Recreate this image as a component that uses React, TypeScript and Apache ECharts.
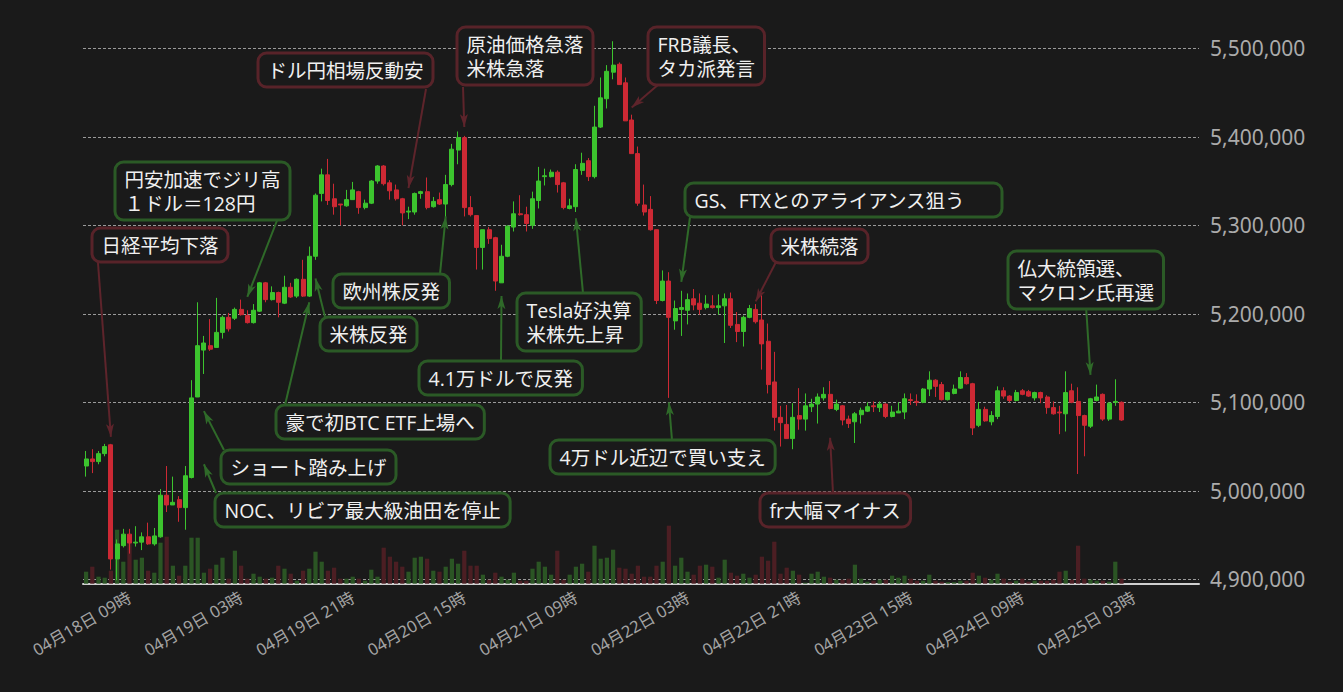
import React, { useEffect, useRef } from 'react';
import * as echarts from 'echarts';

// ---------- DATA ----------
const START_UTC = Date.UTC(2022, 3, 18, 2); // first candle: 04/18 02:00
const CATEGORY_COUNT = 180; // hourly slots on the axis (data fills the first 168)
const pad2 = (n: number) => String(n).padStart(2, '0');
const categories: string[] = Array.from({ length: CATEGORY_COUNT }, (_, i) => {
  const d = new Date(START_UTC + i * 3600 * 1000);
  return `${pad2(d.getUTCMonth() + 1)}月${pad2(d.getUTCDate())}日 ${pad2(d.getUTCHours())}時`;
});

// [open, close, low, high] (JPY)
const ohlc: number[][] = [
  [5028000, 5036000, 5016000, 5045000], [5036000, 5033000, 5020000, 5047000], [5033000, 5042000, 5030000, 5045000],
  [5042000, 5050000, 5039000, 5053000], [5052000, 4923000, 4911000, 5053000], [4923000, 4940000, 4899000, 4945000],
  [4938000, 4951000, 4936000, 4957000], [4951000, 4941000, 4929000, 4957000], [4941000, 4942000, 4937000, 4960000],
  [4942000, 4948000, 4933000, 4953000], [4948000, 4940000, 4939000, 4964000], [4940000, 4949000, 4938000, 4958000],
  [4948000, 4995000, 4947000, 5002000], [4995000, 4984000, 4976000, 5028000], [4984000, 4987000, 4984000, 5016000],
  [4990000, 4981000, 4965000, 4994000], [4981000, 5017000, 4956000, 5028000], [5015000, 5105000, 5014000, 5125000],
  [5106000, 5164000, 5106000, 5213000], [5159000, 5167000, 5132000, 5175000], [5164000, 5160000, 5158000, 5194000],
  [5162000, 5179000, 5162000, 5218000], [5179000, 5196000, 5172000, 5198000], [5196000, 5183000, 5180000, 5201000],
  [5195000, 5205000, 5193000, 5207000], [5205000, 5199000, 5198000, 5216000], [5198000, 5190000, 5189000, 5204000],
  [5190000, 5204000, 5189000, 5211000], [5203000, 5235000, 5202000, 5236000], [5235000, 5216000, 5213000, 5236000],
  [5216000, 5224000, 5215000, 5231000], [5224000, 5213000, 5196000, 5225000], [5212000, 5230000, 5211000, 5243000],
  [5230000, 5219000, 5218000, 5235000], [5220000, 5239000, 5218000, 5240000], [5239000, 5220000, 5219000, 5261000],
  [5220000, 5265000, 5219000, 5276000], [5265000, 5334000, 5261000, 5336000], [5336000, 5357000, 5327000, 5364000],
  [5357000, 5328000, 5323000, 5375000], [5330000, 5321000, 5312000, 5347000], [5324000, 5323000, 5300000, 5324000],
  [5322000, 5329000, 5321000, 5340000], [5329000, 5340000, 5329000, 5349000], [5338000, 5320000, 5313000, 5339000],
  [5320000, 5325000, 5318000, 5329000], [5325000, 5350000, 5324000, 5351000], [5350000, 5367000, 5347000, 5368000],
  [5367000, 5347000, 5345000, 5368000], [5348000, 5339000, 5329000, 5351000], [5340000, 5330000, 5328000, 5346000],
  [5330000, 5314000, 5300000, 5331000], [5315000, 5316000, 5307000, 5321000], [5315000, 5336000, 5312000, 5337000],
  [5336000, 5338000, 5330000, 5339000], [5338000, 5320000, 5318000, 5354000], [5321000, 5327000, 5320000, 5332000],
  [5329000, 5324000, 5323000, 5337000], [5324000, 5346000, 5302000, 5357000], [5346000, 5386000, 5344000, 5392000],
  [5385000, 5399000, 5369000, 5406000], [5399000, 5320000, 5310000, 5401000], [5320000, 5312000, 5310000, 5333000],
  [5311000, 5275000, 5250000, 5311000], [5275000, 5295000, 5250000, 5295000], [5295000, 5285000, 5279000, 5298000],
  [5286000, 5237000, 5226000, 5287000], [5235000, 5265000, 5235000, 5278000], [5265000, 5299000, 5264000, 5300000],
  [5298000, 5313000, 5293000, 5327000], [5313000, 5312000, 5311000, 5334000], [5312000, 5302000, 5293000, 5321000],
  [5300000, 5330000, 5296000, 5338000], [5328000, 5350000, 5319000, 5366000], [5355000, 5356000, 5345000, 5364000],
  [5355000, 5360000, 5354000, 5363000], [5360000, 5346000, 5337000, 5362000], [5348000, 5320000, 5318000, 5349000],
  [5319000, 5322000, 5318000, 5330000], [5321000, 5363000, 5315000, 5369000], [5362000, 5370000, 5357000, 5382000],
  [5373000, 5355000, 5350000, 5376000], [5355000, 5411000, 5353000, 5435000], [5411000, 5444000, 5410000, 5467000],
  [5443000, 5474000, 5432000, 5481000], [5473000, 5481000, 5465000, 5508000], [5482000, 5459000, 5459000, 5484000],
  [5461000, 5418000, 5418000, 5467000], [5419000, 5381000, 5381000, 5425000], [5381000, 5325000, 5322000, 5389000],
  [5323000, 5315000, 5311000, 5346000], [5318000, 5295000, 5294000, 5333000], [5295000, 5215000, 5211000, 5295000],
  [5215000, 5237000, 5214000, 5249000], [5237000, 5196000, 5105000, 5247000], [5192000, 5206000, 5182000, 5215000],
  [5205000, 5207000, 5175000, 5226000], [5204000, 5216000, 5188000, 5223000], [5217000, 5210000, 5204000, 5228000],
  [5212000, 5205000, 5199000, 5223000], [5207000, 5211000, 5205000, 5221000], [5209000, 5207000, 5206000, 5221000],
  [5207000, 5209000, 5199000, 5222000], [5209000, 5217000, 5167000, 5223000], [5217000, 5187000, 5184000, 5224000],
  [5188000, 5180000, 5168000, 5202000], [5180000, 5196000, 5163000, 5198000], [5196000, 5206000, 5195000, 5210000],
  [5205000, 5191000, 5189000, 5211000], [5193000, 5166000, 5137000, 5221000], [5169000, 5120000, 5110000, 5189000],
  [5123000, 5083000, 5068000, 5157000], [5083000, 5077000, 5050000, 5096000], [5075000, 5059000, 5059000, 5097000],
  [5059000, 5083000, 5047000, 5099000], [5085000, 5081000, 5069000, 5116000], [5081000, 5096000, 5068000, 5110000],
  [5095000, 5098000, 5089000, 5104000], [5098000, 5106000, 5076000, 5110000], [5105000, 5109000, 5102000, 5117000],
  [5109000, 5093000, 5092000, 5124000], [5092000, 5098000, 5090000, 5103000], [5096000, 5080000, 5074000, 5097000],
  [5081000, 5076000, 5071000, 5085000], [5078000, 5087000, 5054000, 5089000], [5086000, 5091000, 5076000, 5094000],
  [5090000, 5095000, 5089000, 5100000], [5096000, 5095000, 5089000, 5101000], [5094000, 5098000, 5089000, 5101000],
  [5098000, 5084000, 5082000, 5099000], [5084000, 5089000, 5083000, 5096000], [5088000, 5090000, 5088000, 5100000],
  [5089000, 5104000, 5081000, 5110000], [5103000, 5102000, 5097000, 5110000], [5101000, 5100000, 5096000, 5109000],
  [5100000, 5115000, 5099000, 5116000], [5115000, 5125000, 5107000, 5135000], [5125000, 5118000, 5106000, 5126000],
  [5120000, 5103000, 5102000, 5123000], [5103000, 5111000, 5102000, 5112000], [5110000, 5115000, 5109000, 5120000],
  [5116000, 5128000, 5115000, 5135000], [5128000, 5121000, 5120000, 5133000], [5121000, 5071000, 5063000, 5122000],
  [5074000, 5092000, 5072000, 5100000], [5092000, 5079000, 5078000, 5095000], [5078000, 5085000, 5074000, 5090000],
  [5084000, 5113000, 5081000, 5118000], [5113000, 5107000, 5104000, 5117000], [5107000, 5102000, 5100000, 5108000],
  [5102000, 5111000, 5101000, 5114000], [5113000, 5109000, 5108000, 5115000], [5112000, 5107000, 5106000, 5114000],
  [5105000, 5111000, 5102000, 5112000], [5111000, 5105000, 5099000, 5112000], [5106000, 5094000, 5087000, 5108000],
  [5094000, 5087000, 5086000, 5101000], [5089000, 5088000, 5064000, 5096000], [5087000, 5111000, 5067000, 5135000],
  [5113000, 5100000, 5099000, 5121000], [5101000, 5085000, 5019000, 5117000], [5085000, 5074000, 5039000, 5086000],
  [5073000, 5104000, 5071000, 5105000], [5102000, 5106000, 5101000, 5120000], [5109000, 5081000, 5079000, 5110000],
  [5081000, 5099000, 5079000, 5100000], [5100000, 5101000, 5096000, 5126000], [5100000, 5080000, 5079000, 5101000],
];

// trading volume (relative units)
const volumes: number[] = [
  12, 17, 7, 6, 13, 54, 22, 41, 24, 26, 13, 11, 41, 47, 18, 8, 18, 46, 46, 11,
  15, 19, 26, 5, 33, 18, 5, 10, 7, 5, 6, 18, 15, 10, 3, 13, 15, 32, 22, 13,
  16, 5, 5, 7, 5, 3, 14, 7, 36, 27, 22, 17, 12, 26, 27, 25, 13, 12, 17, 25,
  20, 33, 18, 18, 9, 4, 11, 7, 4, 11, 3, 3, 15, 22, 17, 9, 33, 4, 9, 17,
  20, 12, 38, 25, 26, 34, 16, 15, 10, 18, 7, 7, 18, 22, 58, 18, 26, 12, 9, 18,
  19, 17, 6, 24, 11, 8, 10, 6, 9, 27, 23, 42, 10, 16, 13, 9, 1, 10, 12, 7,
  6, 4, 4, 5, 19, 5, 2, 3, 4, 4, 8, 6, 8, 5, 3, 3, 9, 3, 2, 1.5,
  1.5, 3, 3, 11, 8, 6, 4, 10, 5, 2, 3, 5, 2, 3, 3, 3, 4, 12, 13, 4,
  38, 5, 4, 3, 3, 2, 22, 5,
];

const yTicks = { min: 4900000, max: 5500000, interval: 100000 };

// annotations: text, tone, target [category index, price]
const annotationTexts: string[] = [
  '日経平均下落',
  '円安加速でジリ高\n１ドル＝128円',
  'ドル円相場反動安',
  '原油価格急落\n米株急落',
  'FRB議長、\nタカ派発言',
  'GS、FTXとのアライアンス狙う',
  '米株続落',
  '仏大統領選、\nマクロン氏再選',
  '欧州株反発',
  '米株反発',
  '豪で初BTC ETF上場へ',
  'ショート踏み上げ',
  'NOC、リビア最大級油田を停止',
  '4.1万ドルで反発',
  'Tesla好決算\n米株先上昇',
  '4万ドル近辺で買い支え',
  'fr大幅マイナス',
];
const annotationTones: ('up' | 'down')[] = [
  'down', 'up', 'down', 'down', 'down', 'up', 'down', 'up', 'up',
  'up', 'up', 'up', 'up', 'up', 'up', 'up', 'down',
];
const annotationTargets: [number, number][] = [
  [4, 5061000], [26, 5219000], [52, 5342000], [61, 5411000], [88, 5433000],
  [96, 5236000], [108, 5214000], [162, 5131000], [58, 5310000], [37, 5240000],
  [36, 5213000], [19, 5090000], [19, 5030000], [67, 5220000], [79, 5308000],
  [94, 5100000], [120, 5060000],
];

// ---------- LAYOUT (pixels) ----------
const annotationBoxes: [number, number][] = [
  [92, 228], [115, 162], [258, 53], [457, 27], [648, 27],
  [685, 183], [771, 229], [1008, 251], [333, 274], [320, 317],
  [276, 405], [221, 450], [215, 493], [419, 361], [517, 293],
  [550, 440], [760, 493],
];
// optional fixed inner widths for boxes (null = fit to text)
const annotationBoxWidths: (number | null)[] = [
  null, null, null, null, null, 298, null, null, null, null,
  null, null, null, null, null, null, null,
];
const annotationLineStarts: [number, number][] = [
  [98, 263], [278, 218], [426, 89], [463, 87], [659, 84],
  [690, 217], [776, 262], [1086, 306], [440, 274], [325, 317],
  [285, 405], [224, 450], [216, 493], [501, 361], [583, 293],
  [672, 440], [833, 493],
];

// ---------- STYLE ----------
const BG = '#1a1a1a';
const UP = '#3cc42e';
const DOWN = '#cd2934';
const VOL_UP = '#2b5524';
const VOL_DOWN = '#4c1e23';
const BOX_UP = '#2b5a26';
const BOX_DOWN = '#582329';
const LINE_UP = '#2f6a29';
const LINE_DOWN = '#5e242b';
const FONT = '"Noto Sans", "Noto Sans CJK JP", sans-serif';
const BOX_FONT = '"Open Sans", "Noto Sans CJK JP", sans-serif';

const GRID_LEFT = 83;
const GRID_RIGHT = 144;

export default function App() {
  const ref = useRef<HTMLDivElement>(null);

  useEffect(() => {
    document.body.style.margin = '0';
    document.body.style.background = BG;
    const chart = echarts.init(ref.current!, null, { renderer: 'svg' });

    const volumeData = volumes.map((v, i) => ({
      value: v,
      itemStyle: { color: ohlc[i][1] >= ohlc[i][0] ? VOL_UP : VOL_DOWN },
    }));

    const markLines = annotationTargets.map((t, k) => {
      const color = annotationTones[k] === 'up' ? LINE_UP : LINE_DOWN;
      const ls = { color, width: 2, type: 'solid' as const };
      return [
        { x: annotationLineStarts[k][0], y: annotationLineStarts[k][1], symbol: 'none', lineStyle: ls },
        { coord: [categories[t[0]], t[1]], symbol: 'arrow', symbolSize: [6, 13], lineStyle: ls },
      ];
    });

    const graphics = annotationTexts.map((text, k) => {
      const style: Record<string, unknown> = {
        text,
        fill: '#f0f0f0',
        font: `19.5px ${BOX_FONT}`,
        lineHeight: 24,
        align: 'left',
        verticalAlign: 'top',
        backgroundColor: BG,
        borderColor: annotationTones[k] === 'up' ? BOX_UP : BOX_DOWN,
        borderWidth: 3,
        borderRadius: 7,
        padding: [4, 8, 3, 8],
      };
      const w = annotationBoxWidths[k];
      if (w != null) style.width = w;
      return {
        type: 'text',
        x: annotationBoxes[k][0] + 1.5,
        y: annotationBoxes[k][1] + 1.5,
        z: 100,
        silent: true,
        style,
      };
    });

    chart.setOption({
      animation: false,
      backgroundColor: BG,
      grid: [
        { left: GRID_LEFT, right: GRID_RIGHT, top: 48.3, bottom: 112.7 },
        { left: GRID_LEFT, right: GRID_RIGHT, bottom: 108.3, height: 100 },
      ],
      xAxis: [
        {
          type: 'category',
          gridIndex: 0,
          data: categories,
          boundaryGap: true,
          axisLine: { show: false },
          axisTick: { show: false },
          axisLabel: { show: false },
          splitLine: { show: false },
        },
        {
          type: 'category',
          gridIndex: 1,
          data: categories,
          boundaryGap: true,
          axisLine: { show: true, lineStyle: { color: '#cfcfcf', width: 2 } },
          axisTick: { show: false },
          splitLine: { show: false },
          axisLabel: {
            rotate: 30,
            margin: 12,
            color: '#a3a3a3',
            fontSize: 16.5,
            fontFamily: FONT,
            interval: (index: number) => (index - 7) % 18 === 0,
          },
        },
      ],
      yAxis: [
        {
          type: 'value',
          gridIndex: 0,
          position: 'right',
          min: yTicks.min,
          max: yTicks.max,
          interval: yTicks.interval,
          axisLine: { show: false },
          axisTick: { show: false },
          axisLabel: {
            color: '#ababab',
            fontSize: 21,
            fontFamily: FONT,
            margin: 11,
            formatter: (v: number) => v.toLocaleString('en-US'),
          },
          splitLine: { show: true, lineStyle: { color: '#9a9a9a', width: 1, type: [3, 2] } },
        },
        {
          type: 'value',
          gridIndex: 1,
          min: 0,
          max: 100,
          show: false,
          splitLine: { show: false },
        },
      ],
      graphic: graphics,
      series: [
        {
          type: 'bar',
          xAxisIndex: 1,
          yAxisIndex: 1,
          data: volumeData,
          barWidth: '68%',
          silent: true,
        },
        {
          type: 'candlestick',
          xAxisIndex: 0,
          yAxisIndex: 0,
          data: ohlc,
          clip: false,
          barWidth: '75%',
          itemStyle: {
            color: UP,
            color0: DOWN,
            borderColor: UP,
            borderColor0: DOWN,
            borderWidth: 1,
          },
          markLine: {
            silent: true,
            animation: false,
            symbol: ['none', 'arrow'],
            label: { show: false },
            emphasis: { disabled: true },
            data: markLines,
          },
        },
      ],
    });

    return () => chart.dispose();
  }, []);

  return (
    <div
      ref={ref}
      style={{ position: 'fixed', left: 0, top: 0, width: 1343, height: 692 }}
    />
  );
}
